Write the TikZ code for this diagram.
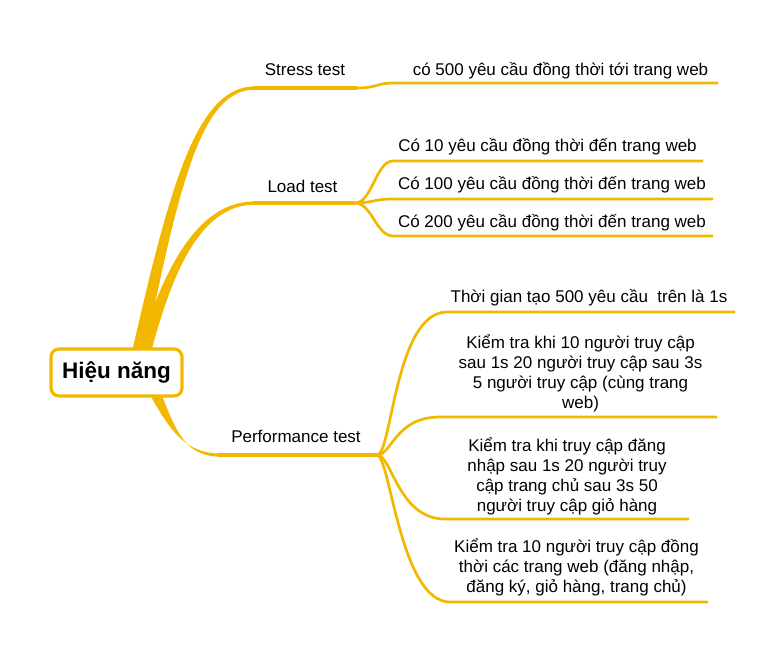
\documentclass[tikz,border=0pt]{standalone}
\usepackage{fontspec}
\setmainfont{Liberation Sans}
\definecolor{br}{RGB}{242,184,0}
\begin{document}
\begin{tikzpicture}[x=1pt,y=-1pt,
  lbl/.style={font=\fontsize{17}{20}\selectfont, inner sep=0pt, align=center, text=black},
  mainline/.style={draw=br, line width=3.2pt},
  subline/.style={draw=br, line width=2.7pt},
  taper/.style={fill=br, draw=none},
  rootbox/.style={draw=br, line width=3.2pt, fill=white, rounded corners=8pt, minimum width=131pt, minimum height=47pt, inner sep=0pt, font=\fontsize{22.5}{26}\selectfont\bfseries}]
\useasboundingbox (0,0) rectangle (783,650);

% tapered main branches
\fill[taper] (132,352) .. controls (171,180) and (198,86.4) .. (255,86.4)
  -- (255,89.6) .. controls (202,89.6) and (180,180) .. (145,352) -- cycle;
\fill[taper] (137,352) .. controls (162,278) and (193,201.4) .. (255,201.4)
  -- (255,204.6) .. controls (197,204.6) and (170,282) .. (151,352) -- cycle;
\fill[taper] (149,393) .. controls (172,435) and (188,453.4) .. (220,453.4)
  -- (220,456.6) .. controls (186,456.6) and (176,432) .. (161,393) -- cycle;

% root
\node[rootbox] (root) at (116.5,372.5) {Hiệu năng};

% main branch coordinates
\coordinate (s0) at (253,88);  \coordinate (s1) at (357,88);
\coordinate (l0) at (253,203); \coordinate (l1) at (355,203);
\coordinate (p0) at (218,455); \coordinate (p1) at (377,455);
\draw[mainline] (s0) -- (s1);
\draw[mainline] (l0) -- (l1);
\draw[mainline] (p0) -- (p1);

\node[lbl] (stress) at (305,70) {Stress test};
\node[lbl] (load) at (302.5,186) {Load test};
\node[lbl] (perf) at (296,436) {Performance test};

% stress child
\coordinate (sa) at (395,83); \coordinate (sb) at (718,83);
\draw[subline] (s1) .. controls (378,88) and (375,83) .. (sa) -- (sb);
\node[lbl] (st1) at (560.5,71) {có 500 yêu cầu đồng thời tới trang web};

% load children
\coordinate (la1) at (393,161); \coordinate (lb1) at (703,161);
\coordinate (la2) at (393,199); \coordinate (lb2) at (713,199);
\coordinate (la3) at (393,236); \coordinate (lb3) at (713,236);
\draw[subline] (l1) .. controls (372,203) and (376,161) .. (la1) -- (lb1);
\draw[subline] (l1) .. controls (372,203) and (374,199) .. (la2) -- (lb2);
\draw[subline] (l1) .. controls (372,203) and (376,236) .. (la3) -- (lb3);
\node[lbl] (lt1) at (547.5,147) {Có 10 yêu cầu đồng thời đến trang web};
\node[lbl] (lt2) at (552,185) {Có 100 yêu cầu đồng thời đến trang web};
\node[lbl] (lt3) at (552,223) {Có 200 yêu cầu đồng thời đến trang web};

% performance children
\coordinate (pa1) at (447,312); \coordinate (pb1) at (735,312);
\coordinate (pa2) at (440,417); \coordinate (pb2) at (717,417);
\coordinate (pa3) at (445,519); \coordinate (pb3) at (689,519);
\coordinate (pa4) at (450,602); \coordinate (pb4) at (708,602);
\draw[subline] (p1) .. controls (392,455) and (395,312) .. (pa1) -- (pb1);
\draw[subline] (p1) .. controls (392,455) and (395,417) .. (pa2) -- (pb2);
\draw[subline] (p1) .. controls (392,455) and (398,519) .. (pa3) -- (pb3);
\draw[subline] (p1) .. controls (390,455) and (400,602) .. (pa4) -- (pb4);

\node[lbl] (pt1) at (589,298) {Thời gian tạo 500 yêu cầu\ \ trên là 1s};
\node[lbl] (pt2) at (580.5,373) {Kiểm tra khi 10 người truy cập\\sau 1s 20 người truy cập sau 3s\\5 người truy cập (cùng trang\\web)};
\node[lbl] (pt3) at (567,476) {Kiểm tra khi truy cập đăng\\nhập sau 1s 20 người truy\\cập trang chủ sau 3s 50\\người truy cập giỏ hàng};
\node[lbl] (pt4) at (576.5,567) {Kiểm tra 10 người truy cập đồng\\thời các trang web (đăng nhập,\\đăng ký, giỏ hàng, trang chủ)};
\end{tikzpicture}
\end{document}
